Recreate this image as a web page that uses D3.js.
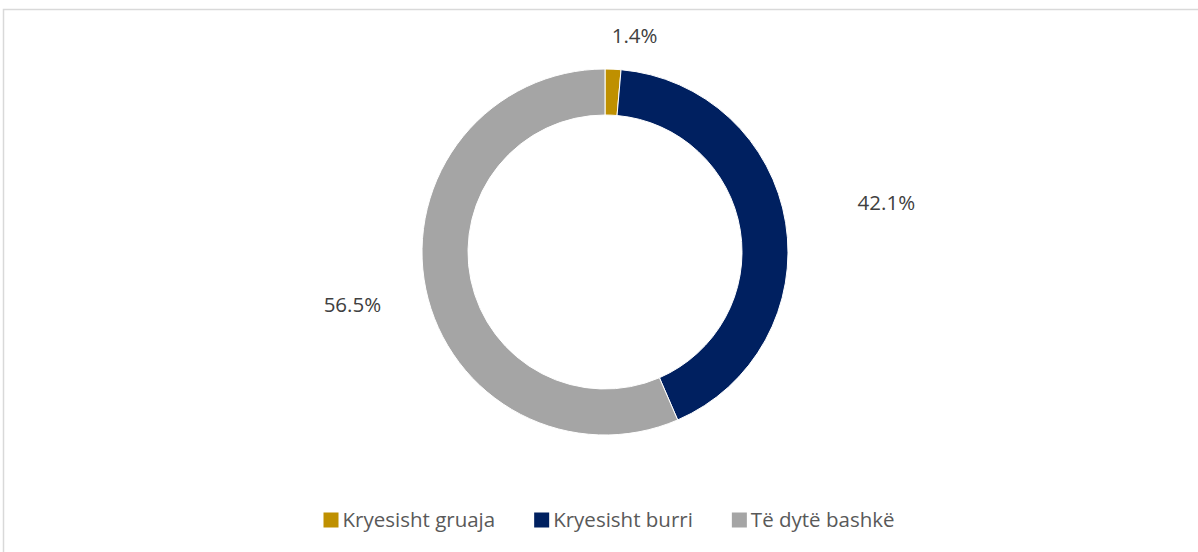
<!DOCTYPE html>
<html>
<meta charset="utf-8">
<title>Donut</title>
<style>
html, body {
  margin: 0;
  padding: 0;
  background: #fff;
}
text {
  font-family: "Open Sans", "Noto Sans", sans-serif;
}
.label {
  fill: #404040;
  font-size: 20.5px;
}
.legend text {
  fill: #595959;
  font-size: 20.5px;
}
</style>
<body>
<svg></svg>
<script src="https://d3js.org/d3.v7.min.js"></script>
<script>

var categories = ["Kryesisht gruaja", "Kryesisht burri", "Të dytë bashkë"];
var values = [1.4, 42.1, 56.5];
var colors = ["#BF9000", "#002060", "#A5A5A5"];

var width = 1198, height = 552;
var cx = 605, cy = 252;
var outerR = 183, innerR = 137;

// label placement (Excel puts them by hand a bit)
var labelR = [219, 285, 258];
var labelDx = [20, 0, 0];
var labelDy = [2, -4, 0];

var svg = d3.select("svg")
    .attr("width", width)
    .attr("height", height);

// chart area border
svg.append("rect")
    .attr("x", 3.5)
    .attr("y", 9.5)
    .attr("width", 1400)
    .attr("height", 800)
    .attr("fill", "#fff")
    .attr("stroke", "#d9d9d9")
    .attr("stroke-width", 1.5);

var data = categories.map(function(c, i) {
  return {name: c, value: values[i], color: colors[i]};
});

var pie = d3.pie()
    .sort(null)
    .value(function(d) { return d.value; });

var arc = d3.arc()
    .innerRadius(innerR)
    .outerRadius(outerR);

var g = svg.append("g")
    .attr("transform", "translate(" + cx + "," + cy + ")");

var arcs = pie(data);

g.selectAll("path")
    .data(arcs)
  .enter().append("path")
    .attr("d", arc)
    .attr("fill", function(d) { return d.data.color; })
    .attr("stroke", "#fff")
    .attr("stroke-width", 1);

g.selectAll("text.label")
    .data(arcs)
  .enter().append("text")
    .attr("class", "label")
    .attr("text-anchor", "middle")
    .attr("dy", "0.36em")
    .attr("x", function(d) {
      var a = (d.startAngle + d.endAngle) / 2;
      return Math.sin(a) * labelR[d.index] + labelDx[d.index];
    })
    .attr("y", function(d) {
      var a = (d.startAngle + d.endAngle) / 2;
      return -Math.cos(a) * labelR[d.index] + labelDy[d.index];
    })
    .text(function(d) { return d3.format(".1f")(d.data.value) + "%"; });

// legend
var legend = svg.append("g").attr("class", "legend");
var box = 15, boxGap = 4, itemGap = 39;
var xPos = 0;
var items = legend.selectAll("g")
    .data(data)
  .enter().append("g");

items.append("rect")
    .attr("width", box)
    .attr("height", box)
    .attr("y", -box / 2)
    .attr("fill", function(d) { return d.color; });

items.append("text")
    .attr("x", box + boxGap)
    .attr("dy", "0.36em")
    .text(function(d) { return d.name; });

items.each(function() {
  var it = d3.select(this);
  it.attr("transform", "translate(" + xPos + ",0)");
  xPos += box + boxGap + it.select("text").node().getComputedTextLength() + itemGap;
});
var total = xPos - itemGap;
legend.attr("transform", "translate(" + (609 - total / 2) + ",520)");

</script>
</body>
</html>
